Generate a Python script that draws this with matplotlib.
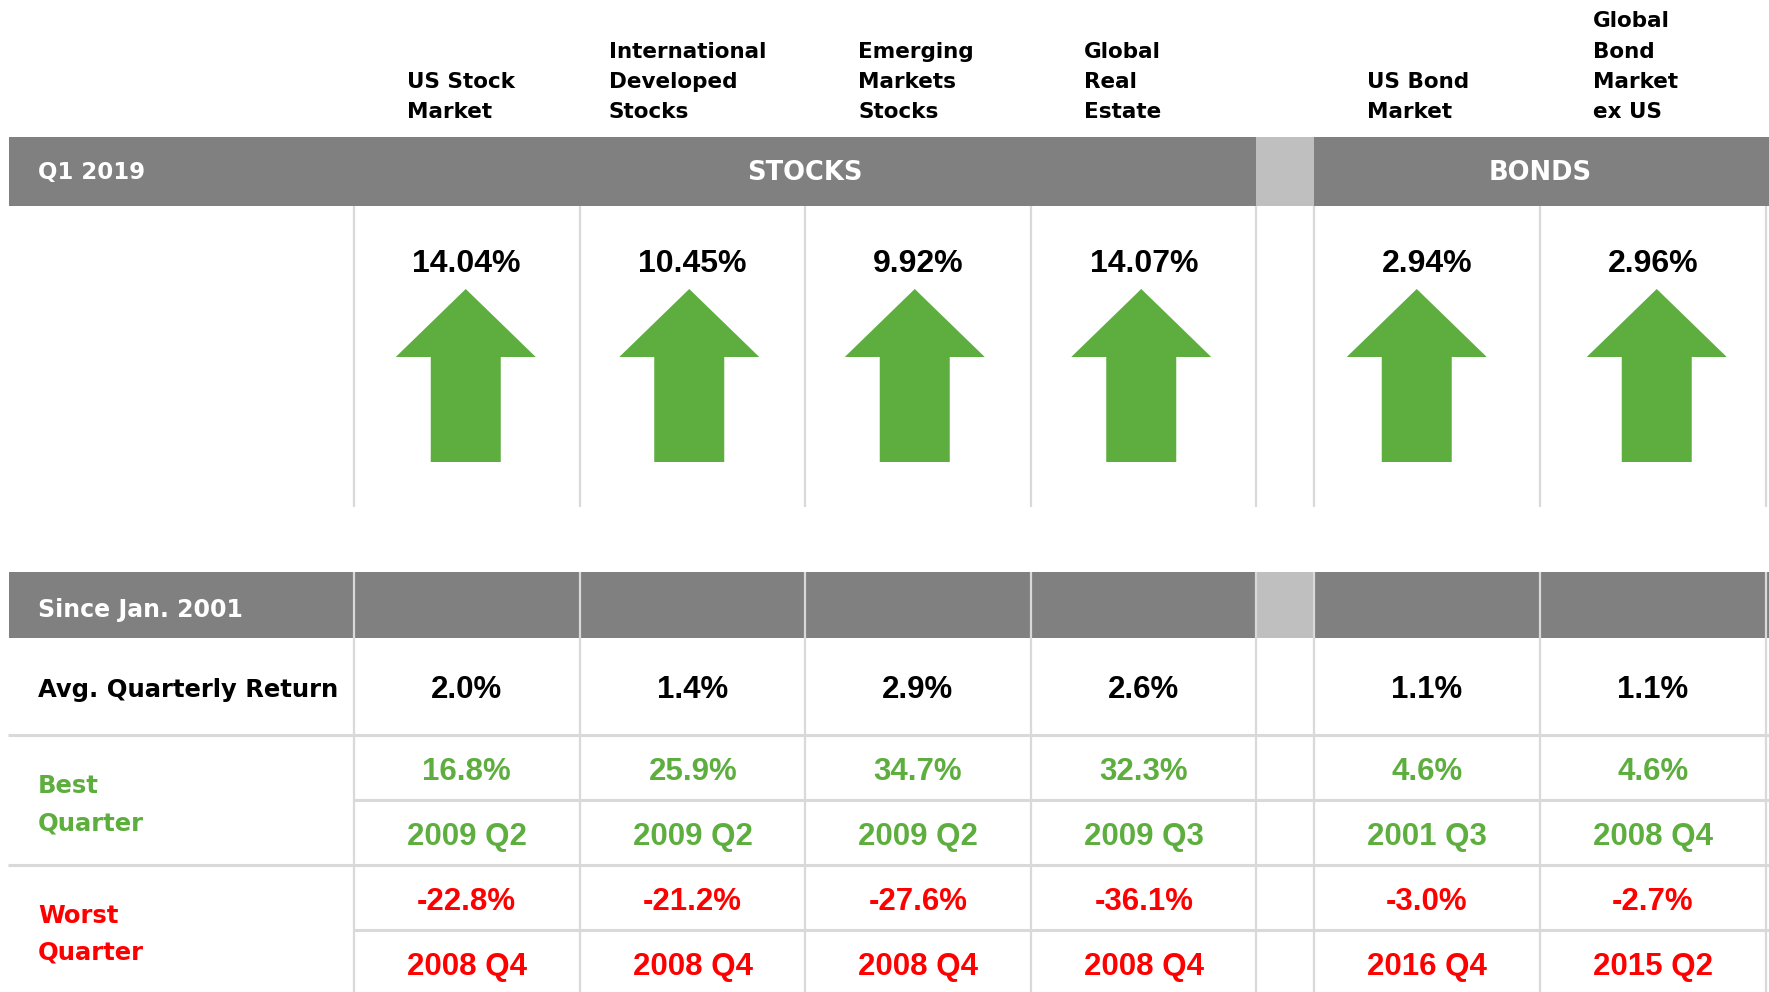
import matplotlib
matplotlib.use("Agg")
import matplotlib.pyplot as plt
from matplotlib.patches import Rectangle, Polygon

# data
assets = ["US Stock\nMarket", "International\nDeveloped\nStocks", "Emerging\nMarkets\nStocks",
          "Global\nReal\nEstate", "US Bond\nMarket", "Global\nBond\nMarket\nex US"]
groups = ["STOCKS", "BONDS"]
group_of = [0, 0, 0, 0, 1, 1]
period = "Q1 2019"
since = "Since Jan. 2001"
q1_returns = [14.04, 10.45, 9.92, 14.07, 2.94, 2.96]
avg_qtr = [2.0, 1.4, 2.9, 2.6, 1.1, 1.1]
best_qtr = [16.8, 25.9, 34.7, 32.3, 4.6, 4.6]
best_when = ["2009 Q2", "2009 Q2", "2009 Q2", "2009 Q3", "2001 Q3", "2008 Q4"]
worst_qtr = [-22.8, -21.2, -27.6, -36.1, -3.0, -2.7]
worst_when = ["2008 Q4", "2008 Q4", "2008 Q4", "2008 Q4", "2016 Q4", "2015 Q2"]

# layout (pixel coordinates of the 1769x992 canvas)
W, H = 1769, 992
col_left = [354, 580, 805, 1031, 1314, 1540]
col_w = 225.5
gap = (1256, 1314)
hdr_off = [53, 29, 53, 53, 53, 53]
arrow_dx = [-1, -3.5, -3, -2.5, -10, 4]   # arrows are not quite centred in the original

GRAY = "#808080"
LIGHT = "#BFBFBF"
LINE = "#D9D9D9"
GREEN = "#5DAE3E"
RED = "#FF0000"
LBL = "DejaVu Sans"
NUM = "Liberation Sans"

fig = plt.figure(figsize=(W / 100, H / 100), dpi=100)
ax = fig.add_axes([0, 0, 1, 1])
ax.set_xlim(0, W)
ax.set_ylim(H, 0)
ax.axis("off")

centers = [l + col_w / 2 for l in col_left]
edges = col_left + [gap[0], col_left[-1] + col_w]

# column headers, bottom aligned
for i, name in enumerate(assets):
    lines = name.split("\n")
    n = len(lines)
    for j, ln in enumerate(lines):
        y = 118.5 - (n - 1 - j) * 30.5
        ax.text(col_left[i] + hdr_off[i], y, ln, fontsize=15.5, fontweight="bold",
                family=LBL, color="black", va="baseline", ha="left")

# top band
ax.add_patch(Rectangle((9, 137), W - 9, 69, color=GRAY, lw=0))
ax.add_patch(Rectangle((gap[0], 137), gap[1] - gap[0], 69, color=LIGHT, lw=0))
ax.text(38, 178.5, period, fontsize=16.5, fontweight="bold", family=LBL,
        color="white", va="baseline", ha="left")
for g, name in enumerate(groups):
    idx = [i for i in range(len(assets)) if group_of[i] == g]
    x0 = col_left[idx[0]]
    x1 = col_left[idx[-1]] + col_w
    ax.text((x0 + x1) / 2, 179.5, name, fontsize=18.5, fontweight="bold", family=LBL,
            color="white", va="baseline", ha="center")

# top section dividers
for x in edges:
    ax.plot([x, x], [206, 507], color=LINE, lw=1.6, solid_capstyle="butt")

# q1 returns with arrows
for i, v in enumerate(q1_returns):
    cx = centers[i]
    ax.text(cx, 272.5, f"{v:.2f}%", fontsize=23, fontweight="bold", family=NUM,
            color="black", va="baseline", ha="center")
    ax_ = cx + arrow_dx[i]
    if v >= 0:
        tip, base, bottom = 289, 357, 462
    else:
        tip, base, bottom = 462, 394, 289
    pts = [(ax_, tip), (ax_ + 70, base), (ax_ + 35, base), (ax_ + 35, bottom),
           (ax_ - 35, bottom), (ax_ - 35, base), (ax_ - 70, base)]
    ax.add_patch(Polygon(pts, closed=True, color=GREEN if v >= 0 else RED, lw=0))

# bottom band
ax.add_patch(Rectangle((9, 572), W - 9, 66, color=GRAY, lw=0))
ax.add_patch(Rectangle((gap[0], 572), gap[1] - gap[0], 66, color=LIGHT, lw=0))
ax.text(38, 617, since, fontsize=17, fontweight="bold", family=LBL,
        color="white", va="baseline", ha="left")

# grid lines of the table
for y in (735, 865):
    ax.plot([8, W], [y, y], color=LINE, lw=2.2, solid_capstyle="butt")
for y in (800, 930):
    ax.plot([354, W], [y, y], color=LINE, lw=2.2, solid_capstyle="butt")
for x in edges:
    ax.plot([x, x], [572, H], color=LINE, lw=1.6, solid_capstyle="butt")

# row labels
ax.text(38, 697.5, "Avg. Quarterly Return", fontsize=17.5, fontweight="bold", family=LBL,
        color="black", va="baseline", ha="left")
ax.text(38, 793, "Best", fontsize=17.5, fontweight="bold", family=LBL,
        color=GREEN, va="baseline", ha="left")
ax.text(38, 830, "Quarter", fontsize=17.5, fontweight="bold", family=LBL,
        color=GREEN, va="baseline", ha="left")
ax.text(38, 923, "Worst", fontsize=17.5, fontweight="bold", family=LBL,
        color=RED, va="baseline", ha="left")
ax.text(38, 959.5, "Quarter", fontsize=17.5, fontweight="bold", family=LBL,
        color=RED, va="baseline", ha="left")

# table values
for i in range(len(assets)):
    cx = centers[i]
    kw = dict(fontsize=22.5, fontweight="bold", family=NUM, va="baseline", ha="center")
    ax.text(cx, 698.5, f"{avg_qtr[i]:.1f}%", color="black", **kw)
    ax.text(cx, 780.5, f"{best_qtr[i]:.1f}%", color=GREEN, **kw)
    ax.text(cx, 845.5, best_when[i], color=GREEN, **kw)
    ax.text(cx, 910.5, f"{worst_qtr[i]:.1f}%", color=RED, **kw)
    ax.text(cx, 975.5, worst_when[i], color=RED, **kw)

fig.savefig("out.png", dpi=100, facecolor="white")
